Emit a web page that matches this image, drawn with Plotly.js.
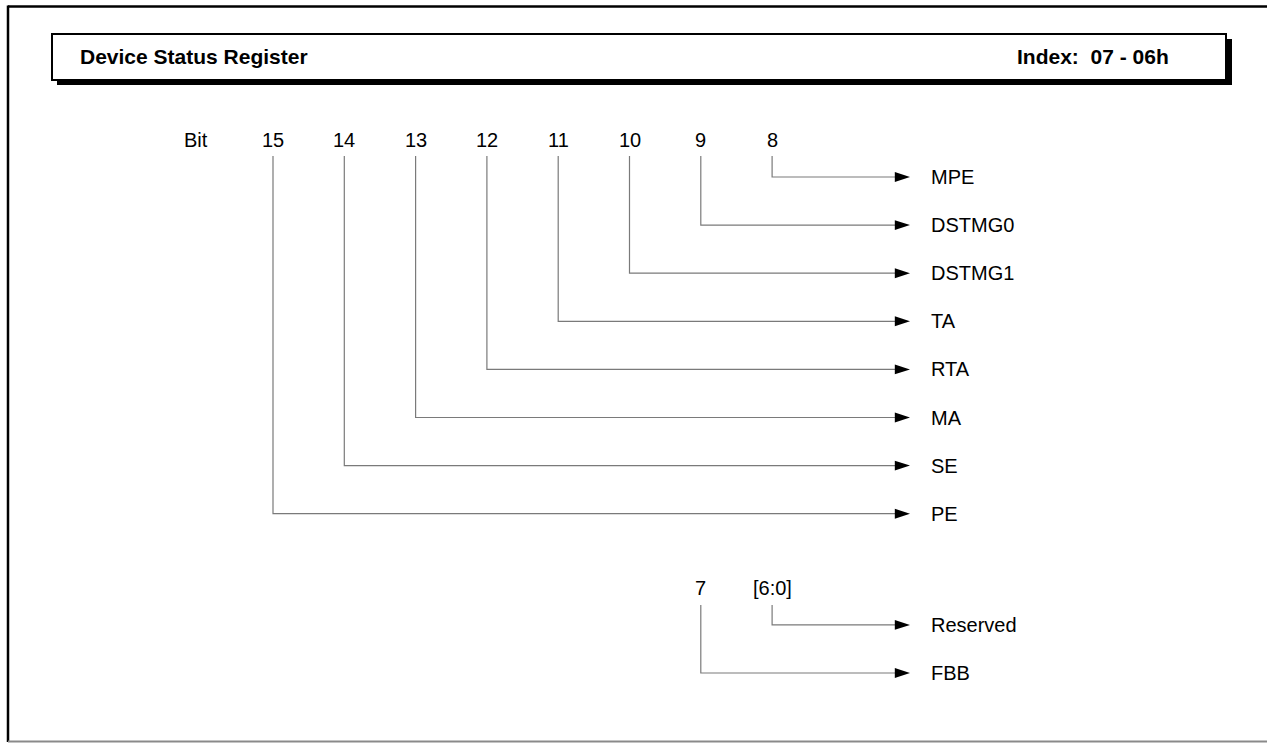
<!DOCTYPE html>
<html><head><meta charset="utf-8">
<script src="https://cdn.plot.ly/plotly-3.0.1.min.js"></script>
<style>html,body{margin:0;padding:0;background:#fff;}#chart{width:1267px;height:743px;}</style>
</head><body><div id="chart"></div>
<script>
// ---- register content ----
const registerTitle = 'Device Status Register';
const registerIndex = 'Index:  07 - 06h';
const bitWord = 'Bit';
const upperBits = ['15', '14', '13', '12', '11', '10', '9', '8'];
const upperFields = ['PE', 'SE', 'MA', 'RTA', 'TA', 'DSTMG1', 'DSTMG0', 'MPE'];
const lowerBits = ['7', '[6:0]'];
const lowerFields = ['FBB', 'Reserved'];

// ---- page geometry (pixels -> column / row units) ----
const W = 1267, H = 743;
const COL0 = 273, COLW = 71.3, ROW0 = 177, ROWH = 48.1;
const c = p => (p - COL0) / COLW;
const r = p => (p - ROW0) / ROWH;
const TIP = c(910), HEADLEN = 14 / COLW, LABELX = c(929);
const UP_LABEL_ROW = r(140), UP_LINE_TOP = r(156);
const LOW_LABEL_ROW = r(588), LOW_LINE_TOP = r(605), LOW_BASE_ROW = r(673);
const FONT = 'Liberation Sans, Arial, Helvetica, sans-serif';
const LINE_GRAY = '#7a7a7a';
const LABEL_SIZE = 20;

const lx = [], ly = [], ax = [], ay = [];
const annotations = [];
function addText(x, y, text, anchor, size, bold) {
  annotations.push({x: x, y: y, xref: 'x', yref: 'y', text: bold ? '<b>' + text + '</b>' : text,
    showarrow: false, xanchor: anchor, yanchor: 'middle',
    font: {family: FONT, size: size, color: '#000'}});
}
function connector(col, topRow, row) {
  lx.push(col, col, TIP - HEADLEN * 0.8, null);
  ly.push(topRow, row, row, null);
  ax.push(TIP); ay.push(row);
}

upperBits.forEach((b, i) => {
  const row = upperBits.length - 1 - i;
  addText(i, UP_LABEL_ROW, b, 'center', LABEL_SIZE);
  connector(i, UP_LINE_TOP, row);
  addText(LABELX, row, upperFields[i], 'left', LABEL_SIZE);
});
addText(c(196), UP_LABEL_ROW, bitWord, 'center', LABEL_SIZE);

lowerBits.forEach((b, j) => {
  const col = upperBits.length - lowerBits.length + j;
  const row = LOW_BASE_ROW - j;
  addText(col, LOW_LABEL_ROW, b, 'center', LABEL_SIZE);
  connector(col, LOW_LINE_TOP, row);
  addText(LABELX, row, lowerFields[j], 'left', LABEL_SIZE);
});

const fx = p => p / W, fy = p => 1 - p / H;
const shapes = [
  // outer frame
  {type: 'line', xref: 'paper', yref: 'paper', x0: fx(8), x1: fx(W), y0: fy(6.5), y1: fy(6.5), line: {color: '#000', width: 2.5}},
  {type: 'line', xref: 'paper', yref: 'paper', x0: fx(8), x1: fx(8), y0: fy(5.5), y1: fy(742), line: {color: '#000', width: 2.5}},
  {type: 'line', xref: 'paper', yref: 'paper', x0: fx(8), x1: fx(W), y0: fy(741.5), y1: fy(741.5), line: {color: '#8a8a8a', width: 2}},
  // header shadow + box
  {type: 'rect', xref: 'paper', yref: 'paper', x0: fx(57), x1: fx(1232), y0: fy(39), y1: fy(85), fillcolor: '#000', line: {width: 0}},
  {type: 'rect', xref: 'paper', yref: 'paper', x0: fx(52), x1: fx(1226), y0: fy(34), y1: fy(80), fillcolor: '#fff', line: {color: '#000', width: 2}}
];
annotations.push({xref: 'paper', yref: 'paper', x: fx(78), y: fy(57), text: '<b>' + registerTitle + '</b>', showarrow: false,
  xanchor: 'left', yanchor: 'middle', font: {family: FONT, size: 21, color: '#000'}});
annotations.push({xref: 'paper', yref: 'paper', x: fx(1171), y: fy(57), text: '<b>' + registerIndex + '</b>', showarrow: false,
  xanchor: 'right', yanchor: 'middle', font: {family: FONT, size: 21, color: '#000'}});

const traces = [
  {type: 'scatter', mode: 'lines', x: lx, y: ly, line: {color: LINE_GRAY, width: 1.2}, hoverinfo: 'skip', showlegend: false},
  {type: 'scatter', mode: 'markers', x: ax, y: ay, marker: {symbol: 'arrow', angle: 90, size: 16, color: '#000', line: {width: 0}},
   hoverinfo: 'skip', showlegend: false}
];

const layout = {
  width: W, height: H, margin: {l: 0, r: 0, t: 0, b: 0}, paper_bgcolor: '#fff', plot_bgcolor: '#fff',
  xaxis: {range: [c(0), c(W)], visible: false, fixedrange: true},
  yaxis: {range: [r(H), r(0)], visible: false, fixedrange: true},
  shapes: shapes, annotations: annotations, showlegend: false
};
Plotly.newPlot('chart', traces, layout, {staticPlot: true, displayModeBar: false});
</script></body></html>
